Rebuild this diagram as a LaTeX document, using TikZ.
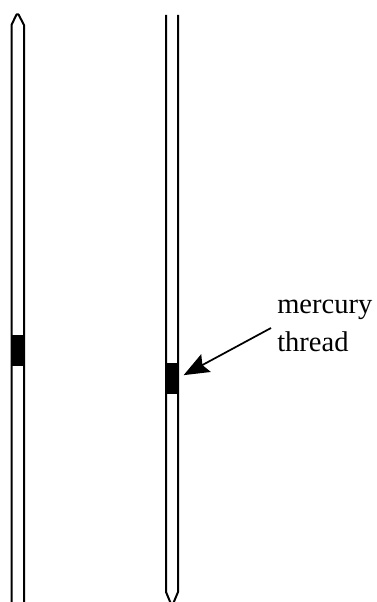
\documentclass[tikz,border=0pt]{standalone}
\usepackage{fontspec}
\setmainfont{Liberation Serif}
\usetikzlibrary{arrows.meta}
\tikzset{
	tube/.style={line width=1.5pt,line join=round},
	thread/.style={draw=black,fill=black,minimum width=9.5pt,minimum height=22.5pt,inner sep=0pt,outer sep=0pt},
	caption/.style={font=\fontsize{21.4pt}{28.5pt}\selectfont,align=left,inner sep=0pt,anchor=base west}
}
\begin{document}
\begin{tikzpicture}[x=0.75pt,y=-0.75pt]
	\useasboundingbox (0,0) rectangle (376,602);
	
	% Sealed at the top
	\draw[tube] (11.5,602) -- (11.5,25) -- (16.5,14.5) -- (18.5,14.5) -- (24,25) -- (24,602);
	\node[thread] (threadL) at (17.7,350) {};
	
	% Sealed at the bottom
	\draw[tube] (166,15) -- (166,592) -- (171,604) -- (173,604) -- (178,592) -- (178,15);
	\node[thread] (threadR) at (172,378) {};
	
	% Label
	\node[caption] (label) at (277,351) {mercury\\thread};
	\coordinate (S) at (271,328);
	\draw[-{Stealth[length=19pt,width=15pt,inset=3pt]},line width=1.3pt,shorten >=4.5pt] (S) -- (threadR.east);
\end{tikzpicture}
\end{document}
